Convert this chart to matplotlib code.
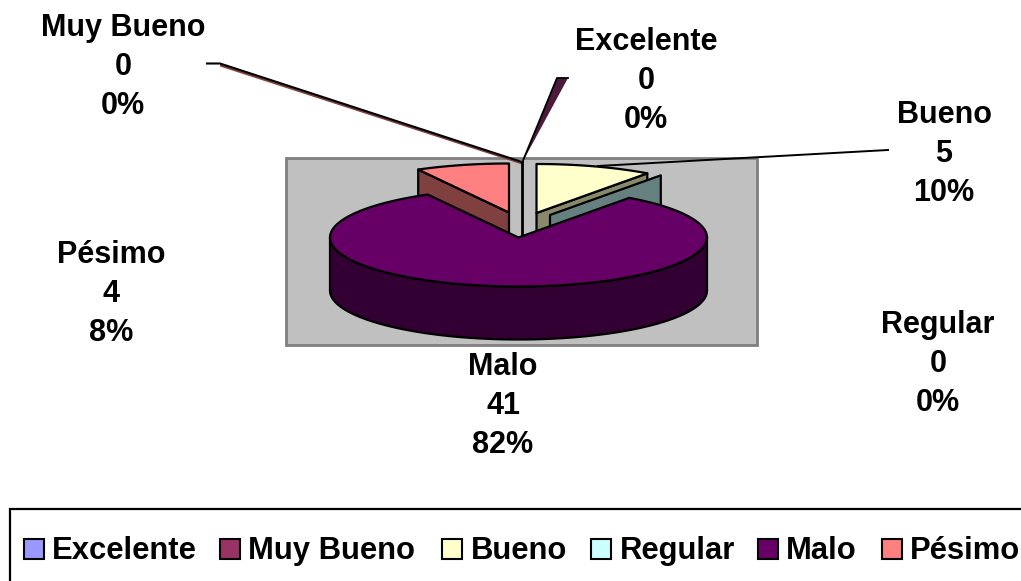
import numpy as np
import matplotlib
matplotlib.use("Agg")
import matplotlib.pyplot as plt
from matplotlib.patches import Polygon, Rectangle

categories = ["Excelente", "Muy Bueno", "Bueno", "Regular", "Malo", "Pésimo"]
counts = [0, 0, 5, 0, 41, 4]
percents = [0, 0, 10, 0, 82, 8]
top_colors = ["#9999ff", "#993366", "#ffffcc", "#ccffff", "#660066", "#ff8080"]
side_colors = ["#4d1a3d", "#804040", "#88886a", "#668080", "#330033", "#804040"]

# slice offsets in pixels from the pie centre
explode = [(3, -75), (3, -75), (18, -24.5), (31.5, -22.5), (0, 0), (-9.5, -25)]
label_pos = [(646, 81), (123, 67), (944, 154), (938, 364), (503, 406), (111, 294)]
legend_key_x = [24, 220, 442, 591, 758, 882]
legend_text_x = [52, 248, 471, 620, 786, 910]

cx, cy, rx, ry, depth = 518.5, 237.5, 188.5, 49, 53

plt.rcParams["font.family"] = ["Liberation Sans", "DejaVu Sans"]
fig = plt.figure(figsize=(10.21, 5.81), dpi=100)
ax = fig.add_axes([0, 0, 1, 1])
ax.set_xlim(0, 1021)
ax.set_ylim(581, 0)
ax.axis("off")

ax.add_patch(Rectangle((286, 157.5), 471, 187, fc="#c0c0c0", ec="#808080", lw=2, zorder=1))


def pt(ang, ox=0, oy=0):
    a = np.radians(ang)
    return cx + ox + rx * np.cos(a), cy + oy - ry * np.sin(a)


def arc(a0, a1, ox=0, oy=0):
    t = np.linspace(a0, a1, 200)
    return np.column_stack(pt(t, ox, oy))


# angles go clockwise from 12 o'clock
ends = 90 - np.cumsum(counts) / np.sum(counts) * 360
starts = np.r_[90, ends[:-1]]
ink = dict(ec="black", lw=1.6, joinstyle="round")

# small slices behind the big one, wall angle is the side that faces the viewer
wall_angle = {5: starts[5], 2: ends[2], 3: starts[3]}
for i in [5, 2, 3]:
    ox, oy = explode[i]
    apex = np.array([cx + ox, cy + oy])
    tip = np.array(pt(wall_angle[i], ox, oy))
    wall = [apex, tip, tip + [0, depth], apex + [0, depth]]
    ax.add_patch(Polygon(wall, fc=side_colors[i], zorder=2 + i * 0.1, **ink))
    if counts[i] > 0:
        top = np.vstack([apex, arc(starts[i], ends[i], ox, oy)])
        ax.add_patch(Polygon(top, fc=top_colors[i], zorder=2 + i * 0.1, **ink))

# Excelente and Muy Bueno have no size, only their walls and leaders show
ax.add_patch(Polygon([(522, 163), (557, 78), (568, 78)], fc=side_colors[0], ec="none", zorder=3))
ax.plot([522, 557, 568], [163, 78, 78], color="black", lw=1.3, zorder=3.1)
ax.add_patch(Polygon([(220, 64), (522, 162), (522, 164.5), (220, 66.5)], fc=side_colors[1], ec="none", zorder=3))
ax.plot([207, 220, 522], [63.5, 63.5, 162], color="black", lw=1.5, zorder=3.1)
ax.plot([522, 522], [162, 236], color="black", lw=2, zorder=3.1)
ax.plot([598, 888], [166, 150], color="black", lw=1.4, zorder=3.1)

# big slice on top of everything
i = 4
front = arc(180, 360)
ax.add_patch(Polygon(np.vstack([front, (front + [0, depth])[::-1]]), fc=side_colors[i], zorder=4, **ink))
ax.add_patch(Polygon(np.vstack([[cx, cy], arc(ends[i], starts[i])]), fc=top_colors[i], zorder=4.1, **ink))

for i, name in enumerate(categories):
    ax.text(*label_pos[i], f"{name}\n{counts[i]}\n{percents[i]}%", ha="center", va="center",
            fontsize=22, fontweight="bold", linespacing=1.4, zorder=5)

# legend, box runs off the right and bottom edge
ax.add_patch(Rectangle((10, 509), 1030, 100, fc="white", ec="black", lw=1.6, zorder=1))
for i, name in enumerate(categories):
    ax.add_patch(Rectangle((legend_key_x[i], 539), 20, 20, fc=top_colors[i], ec="black", lw=1.5, zorder=2))
    ax.text(legend_text_x[i], 559, name, ha="left", va="baseline", fontsize=22.3, fontweight="bold", zorder=2)

fig.savefig("out.png", dpi=100)
